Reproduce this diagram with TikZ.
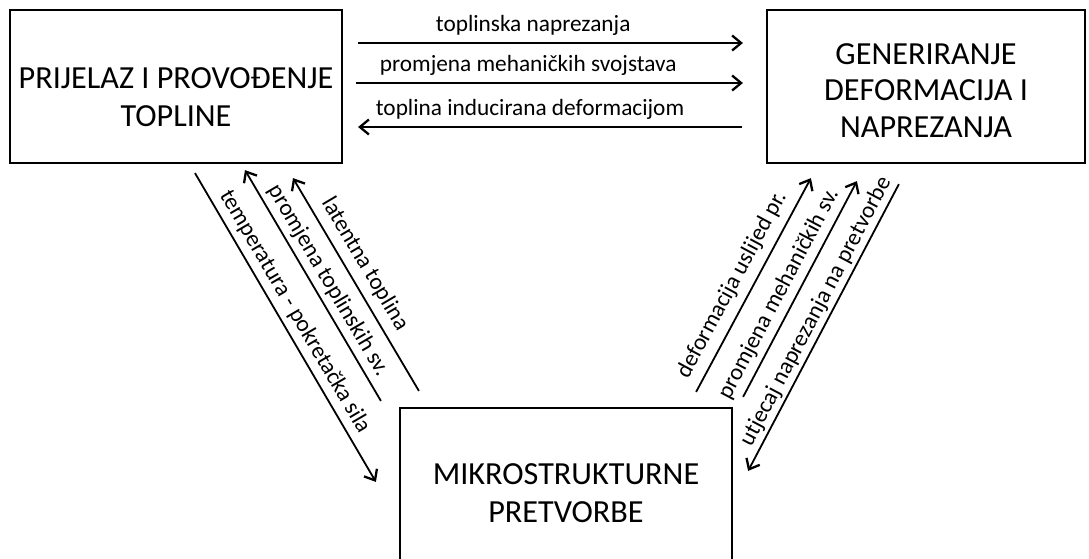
\documentclass[tikz,border=0pt]{standalone}
\usepackage{fontspec}
\setmainfont{Carlito}
\usetikzlibrary{arrows.meta,calc}
\begin{document}
\begin{tikzpicture}[x=1pt,y=-1pt,
  box/.style={draw=black, line width=2.2pt, inner sep=0pt, rectangle},
  btxt/.style={align=center, font=\fontsize{32.2pt}{38pt}\selectfont, inner sep=0pt},
  conn/.style={line width=1.8pt, -{Straight Barb[length=9pt,width=15pt,line width=2.3pt]}},
  lbl/.style={font=\fontsize{23.3pt}{27pt}\selectfont, text depth=0pt, inner xsep=0pt, inner ysep=#1, above},
  lbl/.default=11pt
]
\useasboundingbox (0,0) rectangle (1089,558);
\clip (0,0) rectangle (1089,558);

\node[box, minimum width=332pt, minimum height=153pt] (A) at (176,86.5) {};
\node[btxt] (At) at ($(A.center)+(0,10.5)$) {PRIJELAZ I PROVOĐENJE\\TOPLINE};
\node[box, minimum width=318pt, minimum height=153pt] (B) at (926,86.5) {};
\node[btxt, font=\fontsize{32.2pt}{36.5pt}\selectfont] (Bt) at ($(B.center)+(0,4)$) {GENERIRANJE\\DEFORMACIJA I\\NAPREZANJA};
\node[box, minimum width=332pt, minimum height=170pt] (C) at (566,493) {};
\node[btxt] (Ct) at (C.center) {MIKROSTRUKTURNE\\PRETVORBE};

% horizontal connectors
\draw[conn] ($(A.east)+(15,-43.5)$) -- node[lbl, pos=0.455] {toplinska naprezanja} ($(B.west)+(-23,-43.5)$);
\draw[conn] ($(A.east)+(13,-3.5)$) -- node[lbl, pos=0.445] {promjena mehaničkih svojstava} ($(B.west)+(-23,-3.5)$);
\draw[conn] ($(B.west)+(-24,40.5)$) -- node[lbl, pos=0.552] {toplina inducirana deformacijom} ($(A.east)+(15,40.5)$);

% left diagonals
\draw[conn] ($(A.south)+(19,9)$) -- node[lbl=9pt, sloped, pos=0.475] {temperatura - pokretačka sila} ($(C.north west)+(-23,75)$);
\draw[conn] ($(C.north west)+(-18,-6)$) -- node[lbl=8.5pt, sloped, pos=0.487] {promjena toplinskih sv.} ($(A.south)+(69,6)$);
\draw[conn] ($(C.north west)+(20,-16)$) -- node[lbl=11pt, sloped, pos=0.553] {latentna toplina} ($(A.south)+(117,14)$);

% right diagonals
\draw[conn] ($(C.north east)+(-37,-15)$) -- node[lbl=12pt, sloped, pos=0.458] {deformacija uslijed pr.} ($(B.south west)+(45,14)$);
\draw[conn] ($(C.north east)+(10,-10)$) -- node[lbl=9.5pt, sloped, pos=0.442] {promjena mehaničkih sv.} ($(B.south west)+(91,17)$);
\draw[conn] ($(B.south west)+(133,20)$) -- node[lbl=7pt, sloped, pos=0.468] {utjecaj naprezanja na pretvorbe} ($(C.north east)+(15,64)$);
\end{tikzpicture}
\end{document}
